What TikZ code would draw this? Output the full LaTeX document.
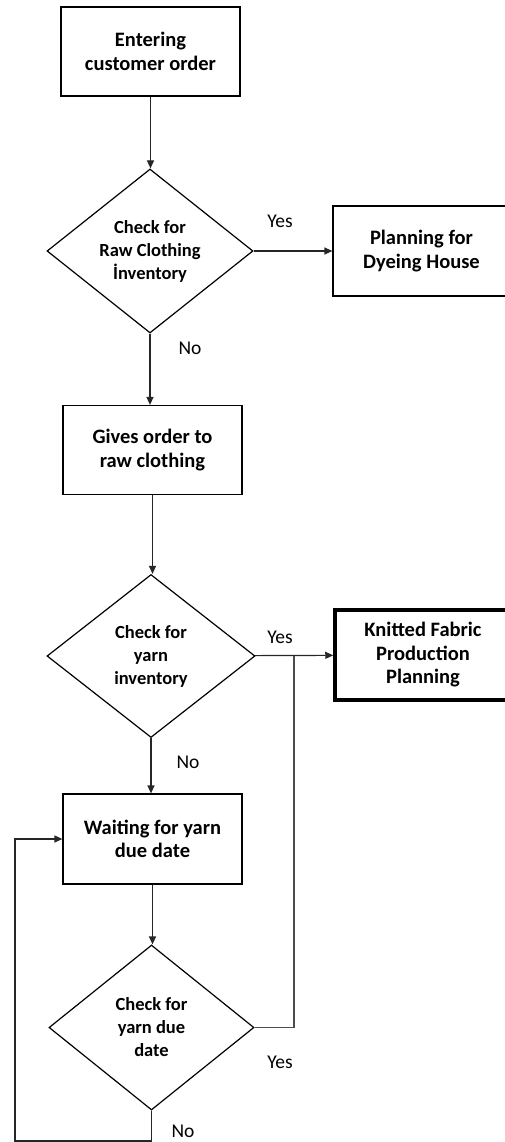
\documentclass[tikz,border=0pt]{standalone}
\usepackage{fontspec}
\setmainfont{Carlito}
\usetikzlibrary{shapes.geometric,arrows.meta}
\begin{document}
\begin{tikzpicture}[x=1pt,y=-1pt,line width=1.2pt,
    every node/.style={font=\fontsize{19.5}{23}\selectfont},
    procbox/.style={draw,align=center,inner sep=0pt,minimum width=179pt,minimum height=89pt,
        font=\bfseries\fontsize{20.5}{23.5}\selectfont},
    checkbox/.style={draw,diamond,aspect=1.25,align=center,inner sep=0pt,
        minimum width=206pt,minimum height=164pt,font=\bfseries\fontsize{18.5}{23}\selectfont},
    flow/.style={draw=black!85,-{Triangle[length=8pt,width=7pt]}},
    link/.style={draw=black!70}]
    \clip (0,0) rectangle (505,1142);
    % steps
    \node[procbox] (order) at (150.5,51.5) {Entering\\customer order};
    \node[checkbox] (rawchk) at (150,251) {Check for\\Raw Clothing\\İnventory};
    \node[procbox,minimum width=177pt,minimum height=90pt] (dyeing) at (421.5,251) {Planning for\\Dyeing House};
    \node[procbox] (giveorder) at (152.5,450) {Gives order to\\raw clothing};
    \node[checkbox,minimum width=208pt,minimum height=163pt] (yarnchk) at (151,656) {Check for\\yarn\\inventory};
    \node[procbox,line width=3.5pt,minimum width=176pt,minimum height=90pt] (knitted) at (423,655)
        {Knitted Fabric\\Production\\Planning};
    \node[procbox,minimum height=90pt] (waiting) at (152.5,839) {Waiting for yarn\\due date};
    \node[checkbox,minimum width=205pt,minimum height=165pt] (duechk) at (151.5,1027.5) {Check for\\yarn due\\date};
    \coordinate (joint) at (294,656);
    \coordinate (loopbot) at (15,1141);
    % connectors
    \draw[flow] (order) -- (order |- rawchk.north);
    \draw[flow] (rawchk) -- (dyeing);
    \draw[flow] (rawchk.south) -- (rawchk.south |- giveorder.north);
    \draw[flow] (giveorder) -- (giveorder |- yarnchk.north);
    \draw[flow] (yarnchk) -- (knitted);
    \draw[flow] (yarnchk.south) -- (yarnchk.south |- waiting.north);
    \draw[flow] (waiting) -- (waiting |- duechk.north);
    \draw[link] (duechk.east) -| (joint);
    \draw[flow] (duechk.south) |- (loopbot) |- (waiting.west);
    % labels
    \node (yes1) at (280,221) {Yes};
    \node (no1) at (190,348) {No};
    \node (yes2) at (280,637) {Yes};
    \node (no2) at (188,762) {No};
    \node (yes3) at (280,1062) {Yes};
    \node (no3) at (183,1131) {No};
\end{tikzpicture}
\end{document}
